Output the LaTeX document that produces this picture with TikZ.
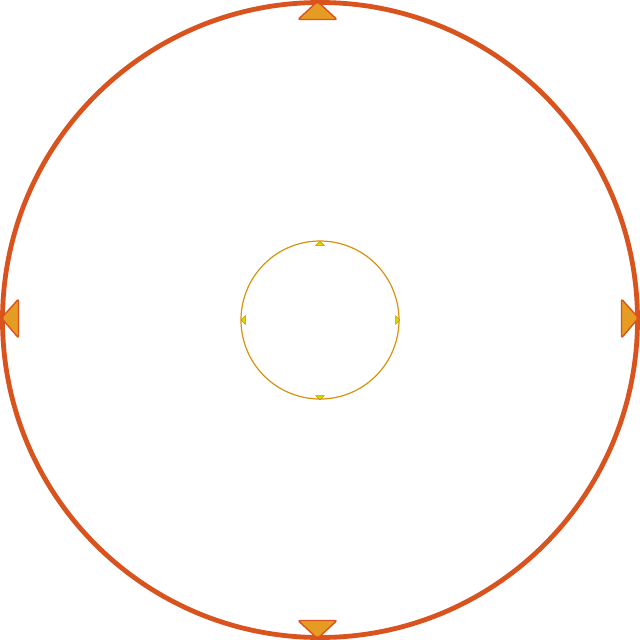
\documentclass[tikz,border=0pt]{standalone}
\definecolor{outerc}{HTML}{D9531E}
\definecolor{trifill}{HTML}{E69C22}
\definecolor{innerc}{HTML}{D8920E}
\definecolor{smallfill}{HTML}{DCD400}
\definecolor{smalldraw}{HTML}{C09A00}
\begin{document}
\begin{tikzpicture}[x=1pt,y=-1pt,
  bigtri/.style={fill=trifill,draw=outerc,line width=1.4pt,line join=round,rounded corners=2pt},
  smalltri/.style={fill=smallfill,draw=smalldraw,line width=0.5pt,line join=round}]
\useasboundingbox (0,0) rectangle (640,640);
\node[circle,draw=outerc,line width=4.8pt,minimum size=635pt,inner sep=0pt] (outer) at (320,320) {};
\node[circle,draw=innerc,line width=1.2pt,minimum size=158pt,inner sep=0pt] (inner) at (320,320) {};
% big triangles
\draw[bigtri] (298,19.5) -- (317.5,1.5) -- (337,19.5) -- cycle;
\draw[bigtri] (298,620.5) -- (317.5,638.5) -- (337,620.5) -- cycle;
\draw[bigtri] (18.5,299) -- (1.5,318) -- (18.5,338) -- cycle;
\draw[bigtri] (621.5,299) -- (638.5,318) -- (621.5,338) -- cycle;
% small triangles
\draw[smalltri] (315.5,245.5) -- (320,241) -- (324.5,245.5) -- cycle;
\draw[smalltri] (315.5,395.5) -- (320,400) -- (324.5,395.5) -- cycle;
\draw[smalltri] (245.5,315.5) -- (241,320) -- (245.5,324.5) -- cycle;
\draw[smalltri] (395.5,315.5) -- (400,320) -- (395.5,324.5) -- cycle;
\end{tikzpicture}
\end{document}
